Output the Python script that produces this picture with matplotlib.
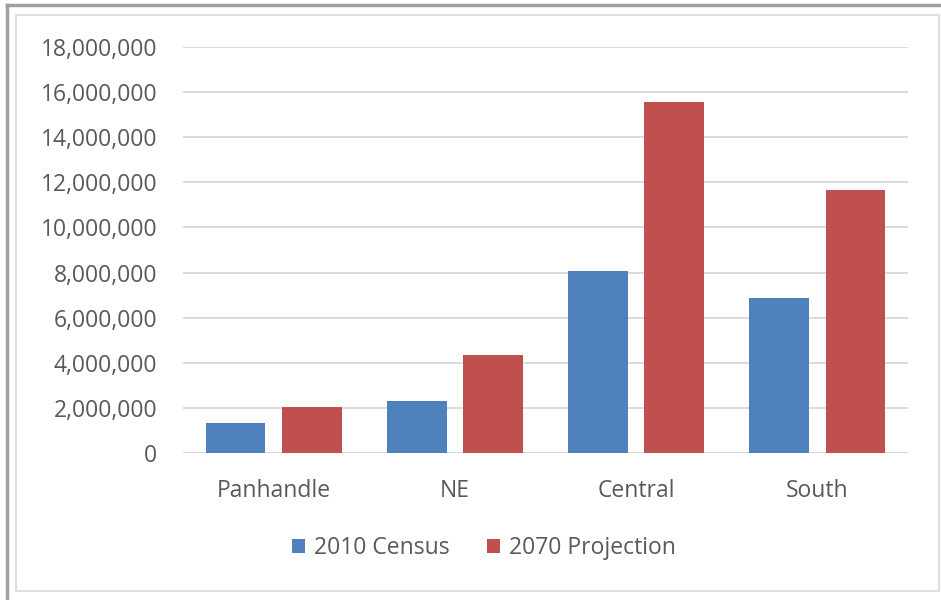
import matplotlib.pyplot as plt
import numpy as np
from matplotlib.patches import Rectangle
from matplotlib.lines import Line2D
from matplotlib.ticker import FuncFormatter

regions = ["Panhandle", "NE", "Central", "South"]
census_2010 = [1350000, 2300000, 8080000, 6880000]
projection_2070 = [2060000, 4330000, 15570000, 11650000]
yticks = list(range(0, 18000001, 2000000))

blue = "#4F81BD"
red = "#C0504D"
text_col = "#595959"
grid_col = "#D9D9D9"

plt.rcParams['font.family'] = ['Open Sans', 'DejaVu Sans']

W, H = 941, 600
fig = plt.figure(figsize=(W / 100, H / 100), dpi=100)

# frame: dark line top/left, light inner border
fig.add_artist(Line2D([7 / W, 7 / W], [0, 1 - 5 / H], color="#A0A0A0", lw=2.5,
                      transform=fig.transFigure))
fig.add_artist(Line2D([7 / W, 1], [1 - 5 / H, 1 - 5 / H], color="#A0A0A0", lw=2.5,
                      transform=fig.transFigure))
fig.add_artist(Rectangle((16 / W, 1 - 591 / H), (939 - 16) / W, (591 - 15) / H,
                         fill=False, ec="#D9D9D9", lw=1.2, transform=fig.transFigure))

ax = fig.add_axes([183 / W, 1 - 453 / H, (908 - 183) / W, (453 - 47) / H])

x = np.arange(len(regions))
width = 0.33
ax.bar(x - 0.21, census_2010, width, color=blue, label="2010 Census", zorder=3)
ax.bar(x + 0.21, projection_2070, width, color=red, label="2070 Projection", zorder=3)

ax.set_xlim(-0.5, len(regions) - 0.5)
ax.set_ylim(0, 18000000)
ax.set_yticks(yticks)
ax.yaxis.set_major_formatter(FuncFormatter(lambda v, p: f"{int(v):,}"))
ax.set_xticks(x)
ax.set_xticklabels(regions)
ax.tick_params(axis="both", length=0, colors=text_col, labelsize=16.5)
ax.tick_params(axis="y", pad=18.5)
ax.tick_params(axis="x", pad=19)
ax.grid(axis="y", color=grid_col, lw=1.3, zorder=0)
for s in ax.spines.values():
    s.set_visible(False)
ax.axhline(0, color=grid_col, lw=1.3, zorder=1)

leg = fig.legend(loc="center", bbox_to_anchor=(484 / W, 1 - 548 / H), ncol=2, frameon=False,
                 fontsize=16.5, handlelength=0.57, handleheight=0.57, handletextpad=0.4,
                 columnspacing=1.6, labelcolor=text_col)

fig.savefig("out.png", dpi=100, facecolor="white")
